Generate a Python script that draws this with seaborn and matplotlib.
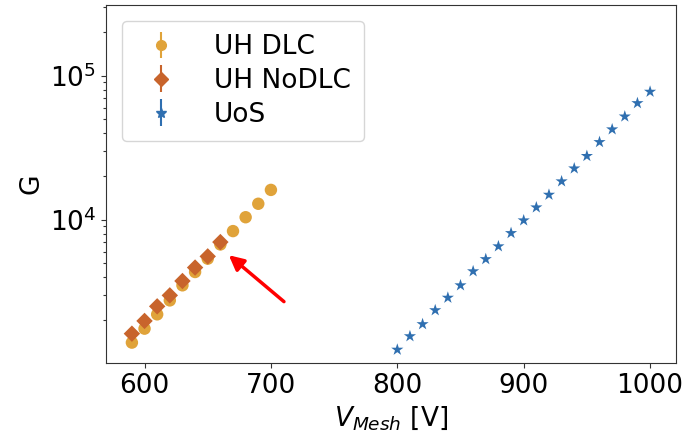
import numpy as np
import pandas as pd
import seaborn as sns
import matplotlib.pyplot as plt

# UH DLC
v_dlc = [590, 600, 610, 620, 630, 640, 650, 660, 670, 680, 690, 700]
g_dlc = [1400, 1750, 2200, 2750, 3500, 4330, 5360, 6730, 8330, 10400, 12900, 16100]

# UH NoDLC
v_nodlc = [590, 600, 610, 620, 630, 640, 650, 660]
g_nodlc = [1615, 1980, 2500, 2980, 3750, 4650, 5560, 6990]

# UoS
v_uos = [800, 810, 820, 830, 840, 850, 860, 870, 880, 890, 900,
         910, 920, 930, 940, 950, 960, 970, 980, 990, 1000]
g_uos = [1250, 1550, 1880, 2350, 2870, 3500, 4380, 5320, 6530, 8070, 9890,
         12170, 14900, 18460, 22700, 27700, 34600, 42400, 52100, 64500, 77400]

c_dlc, c_nodlc, c_uos = "#e0a33a", "#c8642c", "#2f6fb0"

sns.set_style("ticks", {"axes.edgecolor": "#333333", "text.color": "black",
                        "xtick.color": "#333333", "ytick.color": "#333333",
                        "axes.labelcolor": "black"})
plt.rcParams['font.family'] = ['DejaVu Sans']
plt.rcParams['xtick.major.size'] = 3.5
plt.rcParams['ytick.major.size'] = 3.5
plt.rcParams['ytick.minor.size'] = 2
plt.rcParams['ytick.minor.width'] = 0.8
plt.rcParams['ytick.labelcolor'] = 'black'
plt.rcParams['xtick.labelcolor'] = 'black'

f, ax = plt.subplots(figsize=(6.86, 4.37), dpi=100)

sns.scatterplot(x=v_dlc, y=g_dlc, marker="o", s=80, color=c_dlc, edgecolor="none", ax=ax)
sns.scatterplot(x=v_nodlc, y=g_nodlc, marker="D", s=70, color=c_nodlc, edgecolor="none", ax=ax)
sns.scatterplot(x=v_uos, y=g_uos, marker="*", s=85, color=c_uos, edgecolor="none", ax=ax)

# errorbar-style legend handles
h1 = ax.errorbar([], [], yerr=[], fmt="o", ms=7, color=c_dlc, label="UH DLC")
h2 = ax.errorbar([], [], yerr=[], fmt="D", ms=7, color=c_nodlc, label="UH NoDLC")
h3 = ax.errorbar([], [], yerr=[], fmt="*", ms=7, color=c_uos, label="UoS")

ax.set_yscale("log")
ax.set_ylim(1010, 3.1e5)
ax.set_xlim(569.5, 1020.5)
ax.set_xticks([600, 700, 800, 900, 1000])

ax.annotate("", xy=(665, 5830), xytext=(712, 2620),
            arrowprops=dict(arrowstyle="-|>", color="red", lw=2.5, mutation_scale=22))

ax.set_xlabel("$V_{Mesh}$ [V]", fontsize=19)
ax.set_ylabel("G", fontsize=19)
ax.tick_params(labelsize=19)
ax.legend(handles=[h1, h2, h3], loc="upper left", fontsize=19,
          borderaxespad=0.6, handletextpad=1.0, borderpad=0.5, labelspacing=0.3)

f.subplots_adjust(left=0.1545, right=0.9854, top=0.9886, bottom=0.1693)
f.savefig("out.png", dpi=100)
